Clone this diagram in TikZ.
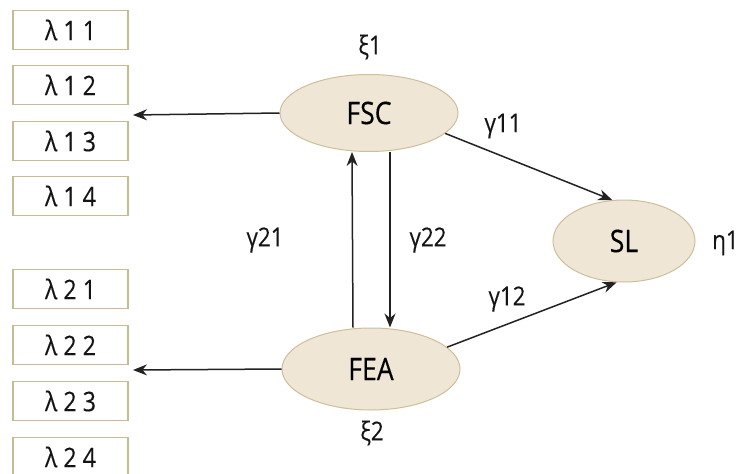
\documentclass[tikz,border=0pt]{standalone}
\usepackage{fontspec}
\setmainfont[FakeStretch=0.86,FakeBold=0.25]{Open Sans}
\usetikzlibrary{shapes.geometric,arrows.meta}
\definecolor{ellfill}{HTML}{EFE6D5}
\definecolor{elldraw}{HTML}{CDBF9C}
\definecolor{boxdraw}{HTML}{C6BC94}
\definecolor{linec}{HTML}{222222}
\tikzset{
  lam/.style={draw=boxdraw, line width=1.1pt, fill=white, minimum width=115pt, minimum height=39pt, inner sep=0pt, font=\fontsize{27}{27}\selectfont, text=black!92},
  lat/.style={ellipse, draw=elldraw, line width=1pt, fill=ellfill, inner sep=0pt, font=\fontsize{31}{31}\selectfont, text=black},
  lbl/.style={inner sep=0pt, font=\fontsize{26}{26}\selectfont, text=black!92},
  conn/.style={draw=linec, line width=1.5pt, -{Stealth[length=14pt,width=11pt]}}
}
\begin{document}
\begin{tikzpicture}[x=1pt,y=-1pt]
\useasboundingbox (0,0) rectangle (740,474);
% indicator boxes
\node[lam] (l11) at (70.5,30) {λ 1 1};
\node[lam] (l12) at (70.5,85) {λ 1 2};
\node[lam] (l13) at (70.5,141) {λ 1 3};
\node[lam] (l14) at (70.5,196) {λ 1 4};
\node[lam] (l21) at (70.5,289) {λ 2 1};
\node[lam] (l22) at (70.5,345) {λ 2 2};
\node[lam] (l23) at (70.5,401) {λ 2 3};
\node[lam] (l24) at (70.5,457) {λ 2 4};
% latent variables
\node[lat, minimum width=178pt, minimum height=77pt] (fsc) at (369,113) {FSC};
\node[lat, minimum width=178pt, minimum height=82pt] (fea) at (371,369) {FEA};
\node[lat, minimum width=142pt, minimum height=82pt] (sl) at (624,241) {SL};
% labels
\node[lbl] (xi1) at (370,47) {ξ1};
\node[lbl] (xi2) at (372,433) {ξ2};
\node[lbl, anchor=west] (eta) at (712,243) {η1};
\node[lbl] (g21) at (265,240) {γ21};
\node[lbl] (g22) at (428,240) {γ22};
\node[lbl] (g11) at (503,126) {γ11};
\node[lbl] (g12) at (507,299) {γ12};
% free ends
\coordinate (e1) at (133,115);
\coordinate (e2) at (133,370);
% connectors
\draw[conn] (fsc.west) -- (e1);
\draw[conn] (fea.west) -- (e2);
\draw[conn] ([xshift=-18pt]fea.north) -- ([xshift=-17pt]fsc.south);
\draw[conn] ([xshift=21pt]fsc.south) -- ([xshift=19pt]fea.north);
\draw[conn] (fsc.-15) -- (sl.106);
\draw[conn] (fea.16) -- (sl.-100);
\end{tikzpicture}
\end{document}
